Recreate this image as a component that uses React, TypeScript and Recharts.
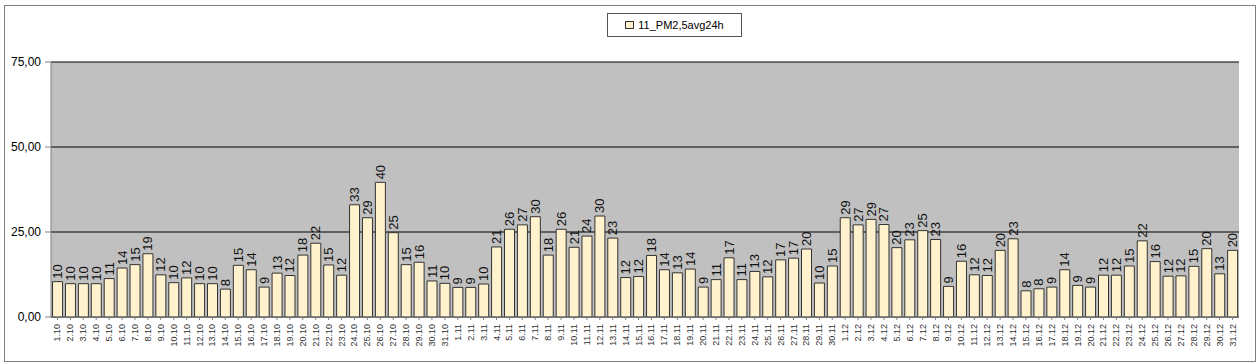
import React from "react";
import { BarChart, Bar, XAxis, YAxis, CartesianGrid, LabelList, Legend } from "recharts";

const days: string[] = [
  "1.10","2.10","3.10","4.10","5.10","6.10","7.10","8.10","9.10","10.10","11.10","12.10","13.10","14.10","15.10","16.10","17.10","18.10","19.10","20.10","21.10","22.10","23.10","24.10","25.10","26.10","27.10","28.10","29.10","30.10","31.10",
  "1.11","2.11","3.11","4.11","5.11","6.11","7.11","8.11","9.11","10.11","11.11","12.11","13.11","14.11","15.11","16.11","17.11","18.11","19.11","20.11","21.11","22.11","23.11","24.11","25.11","26.11","27.11","28.11","29.11","30.11",
  "1.12","2.12","3.12","4.12","5.12","6.12","7.12","8.12","9.12","10.12","11.12","12.12","13.12","14.12","15.12","16.12","17.12","18.12","19.12","20.12","21.12","22.12","23.12","24.12","25.12","26.12","27.12","28.12","29.12","30.12","31.12",
];

const pm25: number[] = [
  10.4, 9.8, 9.8, 9.8, 11.3, 14.4, 15.4, 18.6, 12.4, 10.1, 11.5, 9.8, 9.8, 8.2, 15.2, 13.9, 8.8, 12.9, 12.2, 18.2, 21.7, 15.3, 12.3, 33.0, 29.2, 39.6, 24.8, 15.4, 16.1, 10.6, 9.9,
  8.7, 8.7, 9.7, 20.6, 25.8, 27.1, 29.5, 18.2, 25.8, 20.5, 23.8, 29.7, 23.2, 11.6, 11.9, 18.1, 13.9, 13.0, 14.1, 8.8, 11.0, 17.4, 11.0, 13.4, 11.8, 16.8, 17.3, 20.0, 10.0, 15.0,
  29.2, 27.1, 28.7, 27.2, 20.4, 22.7, 25.4, 22.8, 9.0, 16.4, 12.4, 12.2, 19.6, 23.0, 7.7, 8.3, 8.8, 13.9, 9.3, 8.8, 12.3, 12.3, 15.0, 22.4, 16.3, 12.0, 12.1, 14.9, 20.1, 12.7, 19.6,
];

const yTicks: number[] = [0, 25, 50, 75];
const seriesName = "11_PM2,5avg24h";

const data = days.map((d, i) => ({ day: d, value: pm25[i] }));

const XTick = (props: any) => {
  const { x, y, payload } = props;
  return (
    <text
      x={x}
      y={y + 2}
      transform={`rotate(-90, ${x}, ${y + 2})`}
      textAnchor="end"
      dominantBaseline="central"
      fontSize={9}
      fontFamily="Liberation Sans, Arial, sans-serif"
      fill="#333"
    >
      {payload.value}
    </text>
  );
};

const ValueLabel = (props: any) => {
  const { x, y, width, value } = props;
  const cx = x + width / 2;
  const cy = y - 3;
  return (
    <text
      x={cx}
      y={cy}
      transform={`rotate(-90, ${cx}, ${cy})`}
      textAnchor="start"
      dominantBaseline="central"
      fontSize={13}
      fontFamily="Liberation Sans, Arial, sans-serif"
      fill="#111"
    >
      {Math.round(value)}
    </text>
  );
};

const LegendBox = () => (
  <div
    style={{
      position: "absolute",
      left: 607,
      top: 13,
      width: 135,
      height: 24,
      border: "1px solid #555",
      background: "#fff",
      boxSizing: "border-box",
      display: "flex",
      alignItems: "center",
      justifyContent: "center",
      fontFamily: "Liberation Sans, Arial, sans-serif",
      fontSize: 11,
      color: "#000",
    }}
  >
    <span
      style={{
        display: "inline-block",
        width: 7,
        height: 6,
        background: "#FFF2CC",
        border: "1px solid #333",
        marginRight: 4,
      }}
    />
    {seriesName}
  </div>
);

export default function App() {
  return (
    <div style={{ position: "absolute", left: 0, top: 0, width: 1260, height: 363, background: "#fff" }}>
      <div
        style={{
          position: "absolute",
          left: 4,
          top: 5,
          width: 1252,
          height: 357,
          border: "1px solid #808080",
          boxSizing: "border-box",
        }}
      />
      <BarChart
        width={1260}
        height={363}
        data={data}
        margin={{ top: 62, right: 21, bottom: 0, left: 0 }}
        barCategoryGap="12%"
        style={{ position: "absolute", left: 0, top: 0 }}
      >
        <CartesianGrid
          vertical={false}
          horizontal={true}
          stroke="#000"
          strokeWidth={1}
          fill="#C0C0C0"
          fillOpacity={1}
        />
        <XAxis
          dataKey="day"
          interval={0}
          height={46}
          tick={<XTick />}
          tickLine={{ stroke: "#808080" }}
          tickSize={3}
          axisLine={{ stroke: "#808080" }}
        />
        <YAxis
          domain={[0, 75]}
          ticks={yTicks}
          width={51}
          tickFormatter={(v: number) => v.toFixed(2).replace(".", ",")}
          tick={{ fontSize: 12, fill: "#000", fontFamily: "Liberation Sans, Arial, sans-serif" }}
          tickLine={{ stroke: "#808080" }}
          tickSize={6}
          tickMargin={4}
          axisLine={{ stroke: "#808080" }}
          interval={0}
        />
        <Legend content={<LegendBox />} wrapperStyle={{ position: "absolute", left: 0, top: 0, width: 0, height: 0 }} />
        <Bar
          dataKey="value"
          name={seriesName}
          fill="#FFF2CC"
          stroke="#333"
          strokeWidth={1}
          isAnimationActive={false}
        >
          <LabelList dataKey="value" content={<ValueLabel />} />
        </Bar>
      </BarChart>
    </div>
  );
}
